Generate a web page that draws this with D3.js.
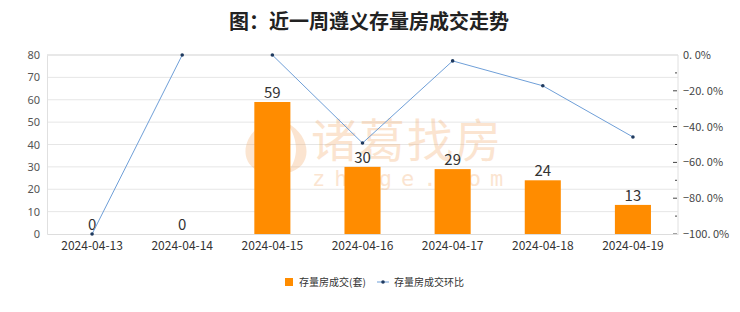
<!DOCTYPE html>
<html>
<head>
<meta charset="utf-8">
<script src="https://d3js.org/d3.v7.min.js"></script>
<style>
  body { margin: 0; background: #fff; }
  text { font-family: "Noto Sans CJK SC", "Noto Sans", sans-serif; }
</style>
</head>
<body>
<div id="chart"></div>
<script>
// data
var dates = ["2024-04-13", "2024-04-14", "2024-04-15", "2024-04-16", "2024-04-17", "2024-04-18", "2024-04-19"];
var deals = [0, 0, 59, 30, 29, 24, 13];          // 存量房成交(套)
var ratio = [-100, 0, 0, -49.2, -3.3, -17.2, -45.8]; // 存量房成交环比 (%)
var lineBreakAfter = [1];                        // no segment drawn 04-14 -> 04-15
var leftTicks = [0, 10, 20, 30, 40, 50, 60, 70, 80];
var rightTicks = [-100, -80, -60, -40, -20, 0];

var W = 740, H = 312;
var margin = { top: 55, right: 62, bottom: 78, left: 47 };
var width = W - margin.left - margin.right,
    height = H - margin.top - margin.bottom;

var svg = d3.select("#chart").append("svg")
  .attr("width", W).attr("height", H);

// title
svg.append("text")
  .attr("x", 369).attr("y", 29)
  .attr("text-anchor", "middle")
  .style("font-size", "20px")
  .style("font-weight", "bold")
  .style("fill", "#222")
  .text("图：近一周遵义存量房成交走势");

var g = svg.append("g")
  .attr("transform", "translate(" + margin.left + "," + margin.top + ")");

var x = d3.scaleBand().domain(dates).range([0, width]).paddingInner(0.6).paddingOuter(0.3);
var y = d3.scaleLinear().domain([0, 80]).range([height, 0]);
var y2 = d3.scaleLinear().domain([-100, 0]).range([height, 0]);
var cx = function (d) { return x(d) + x.bandwidth() / 2; };

// grid
g.append("g").selectAll("line")
  .data(leftTicks.slice(1))
  .enter().append("line")
  .attr("x1", 0).attr("x2", width)
  .attr("y1", function (d) { return y(d); })
  .attr("y2", function (d) { return y(d); })
  .style("stroke", function (d) { return d === 80 ? "#e8e8e8" : "#e6e6e6"; })
  .style("stroke-width", function (d) { return d === 80 ? 2 : 1; });

// watermark
var wm = g.append("g").attr("opacity", 0.3);
wm.append("path")
  .attr("d", "M218,68 C194,80 190,112 218,118 C205,102 207,84 218,68 Z M240,68 C264,80 268,112 240,118 C253,102 251,84 240,68 Z M229,74 C239,90 239,106 229,118 C219,106 219,90 229,74 Z")
  .style("fill", "#f2a868");
wm.append("text")
  .attr("x", 264).attr("y", 102)
  .style("font-size", "46px")
  .style("fill", "#f2a868")
  .style("letter-spacing", "2px")
  .text("诸葛找房");
wm.append("text")
  .attr("x", 265).attr("y", 131)
  .style("font-size", "22px")
  .style("font-family", "DejaVu Sans Mono, monospace")
  .style("fill", "#f2a868")
  .style("letter-spacing", "9px")
  .text("zhuge.com");

// bars
g.append("g").selectAll("rect")
  .data(deals)
  .enter().append("rect")
  .attr("x", function (d, i) { return x(dates[i]); })
  .attr("y", function (d) { return y(d); })
  .attr("width", x.bandwidth())
  .attr("height", function (d) { return height - y(d); })
  .style("fill", "#ff8c00");

g.append("g").selectAll("text")
  .data(deals)
  .enter().append("text")
  .attr("x", function (d, i) { return cx(dates[i]); })
  .attr("y", function (d) { return y(d) - 4; })
  .attr("text-anchor", "middle")
  .style("font-size", "15px")
  .style("fill", "#333")
  .text(function (d) { return d; });

// left axis
var yAxis = g.append("g").call(d3.axisLeft(y).tickValues(leftTicks).tickSize(0).tickPadding(7));
yAxis.select(".domain").style("stroke", "#e0e0e0");
yAxis.selectAll("text").style("font-size", "11px").style("fill", "#555").style("font-family", "Noto Sans, sans-serif");

// right axis
var ra = g.append("g").attr("transform", "translate(" + width + ",0)");
var minor = d3.range(-90, 0, 20);
ra.append("line").attr("y1", 0).attr("y2", height).style("stroke", "#e0e0e0");
ra.selectAll(".maj").data(rightTicks.slice(0, -1)).enter().append("line")
  .attr("x1", -5).attr("x2", -1)
  .attr("y1", function (d) { return y2(d); }).attr("y2", function (d) { return y2(d); })
  .style("stroke", "#444");
ra.selectAll(".min").data(minor).enter().append("line")
  .attr("x1", -3).attr("x2", -1)
  .attr("y1", function (d) { return y2(d); }).attr("y2", function (d) { return y2(d); })
  .style("stroke", "#444");
ra.selectAll("text").data(rightTicks).enter().append("text")
  .attr("x", 5)
  .attr("y", function (d) { return y2(d) + 4; })
  .style("font-size", "11px")
  .style("fill", "#444")
  .style("font-family", "Noto Sans CJK JP, sans-serif")
  .text(function (d) { return d3.format(".1f")(d).replace(".", ". ") + "%"; });

// bottom axis
var xAxis = g.append("g").attr("transform", "translate(0," + height + ")")
  .call(d3.axisBottom(x).tickSize(0).tickPadding(7));
xAxis.select(".domain").style("stroke", "#ddd");
xAxis.selectAll("text").style("font-size", "12px").style("fill", "#333").style("font-family", "Noto Sans CJK JP, sans-serif");

// ratio line
var pts = ratio.map(function (d, i) { return { d: dates[i], v: d, i: i }; });
var segs = [];
var cur = [];
pts.forEach(function (p) {
  cur.push(p);
  if (lineBreakAfter.indexOf(p.i) >= 0) { segs.push(cur); cur = []; }
});
segs.push(cur);
var line = d3.line().x(function (p) { return cx(p.d); }).y(function (p) { return y2(p.v); });
g.append("g").selectAll("path").data(segs).enter().append("path")
  .attr("d", line)
  .style("fill", "none")
  .style("stroke", "#6f9fd8")
  .style("stroke-width", 1);
g.append("g").selectAll("circle").data(pts).enter().append("circle")
  .attr("cx", function (p) { return cx(p.d); })
  .attr("cy", function (p) { return y2(p.v); })
  .attr("r", 1.8)
  .style("fill", "#1f3a5f");

// legend
var lg = svg.append("g").attr("transform", "translate(285,278)");
lg.append("rect").attr("width", 8).attr("height", 8).style("fill", "#ff8c00");
lg.append("text").attr("x", 14).attr("y", 8).style("font-size", "10px").style("fill", "#333").text("存量房成交(套)");
lg.append("line").attr("x1", 92).attr("x2", 104).attr("y1", 4).attr("y2", 4).style("stroke", "#6f9fd8");
lg.append("circle").attr("cx", 98).attr("cy", 4).attr("r", 1.8).style("fill", "#1f3a5f");
lg.append("text").attr("x", 109).attr("y", 8).style("font-size", "10px").style("fill", "#333").text("存量房成交环比");
</script>
</body>
</html>
